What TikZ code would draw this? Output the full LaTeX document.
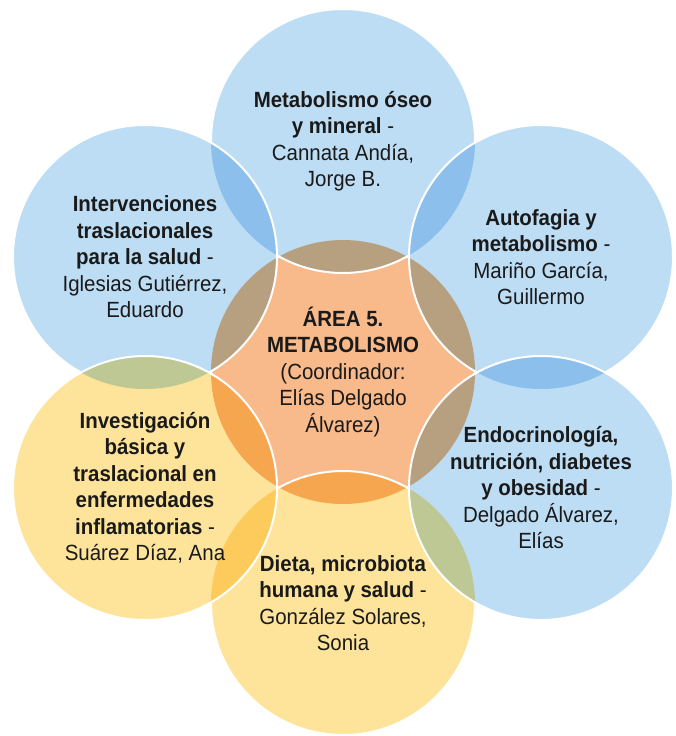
\documentclass[tikz,border=0pt]{standalone}
\usepackage{fontspec}
\setmainfont{Liberation Sans}[FakeStretch=0.93]
\definecolor{cblue}{HTML}{BDDDF5}
\definecolor{corange}{HTML}{F8B98B}
\definecolor{cyellow}{HTML}{FEE49B}
\definecolor{mixbb}{HTML}{8CBFEB}
\definecolor{mixob}{HTML}{B7A080}
\definecolor{mixoy}{HTML}{F6A64E}
\definecolor{mixyb}{HTML}{BDC894}
\definecolor{mixyy}{HTML}{FDCB5C}
\definecolor{txtcol}{HTML}{1A1A1A}
\begin{document}
\begin{tikzpicture}[x=1pt,y=-1pt,
  txt/.style={align=center, font=\fontsize{22}{26.5}\selectfont, text=txtcol, inner sep=0pt},
  rim/.style={draw=white, line width=2pt}]
\useasboundingbox (0,0) rectangle (676,736);
\def\R{132pt}
\coordinate (C) at (343,372);
\coordinate (T) at (343,141);
\coordinate (UL) at (145,257);
\coordinate (UR) at (541,257);
\coordinate (B) at (343,603);
\coordinate (BL) at (145,488);
\coordinate (BR) at (541,488);
% centre
\fill[corange] (C) circle (\R);
\draw[rim] (C) circle (\R);
% top
\fill[cblue] (T) circle (\R);
\begin{scope}\clip (T) circle (\R); \fill[mixob] (C) circle (\R); \end{scope}
\draw[rim] (T) circle (\R);
% upper left
\fill[cblue] (UL) circle (\R);
\begin{scope}\clip (UL) circle (\R); \fill[mixbb] (T) circle (\R); \fill[mixob] (C) circle (\R); \end{scope}
\draw[rim] (UL) circle (\R);
% upper right
\fill[cblue] (UR) circle (\R);
\begin{scope}\clip (UR) circle (\R); \fill[mixbb] (T) circle (\R); \fill[mixob] (C) circle (\R); \end{scope}
\draw[rim] (UR) circle (\R);
% bottom
\fill[cyellow] (B) circle (\R);
\begin{scope}\clip (B) circle (\R); \fill[mixoy] (C) circle (\R); \end{scope}
\draw[rim] (B) circle (\R);
% bottom left
\fill[cyellow] (BL) circle (\R);
\begin{scope}\clip (BL) circle (\R); \fill[mixyb] (UL) circle (\R); \fill[mixoy] (C) circle (\R); \fill[mixyy] (B) circle (\R); \end{scope}
\draw[rim] (BL) circle (\R);
% bottom right
\fill[cblue] (BR) circle (\R);
\begin{scope}\clip (BR) circle (\R); \fill[mixbb] (UR) circle (\R); \fill[mixob] (C) circle (\R); \fill[mixyb] (B) circle (\R); \end{scope}
\draw[rim] (BR) circle (\R);
% texts
\node[txt] (tC) at (C) {\textbf{ÁREA 5.}\\\textbf{METABOLISMO}\\(Coordinador:\\Elías Delgado\\Álvarez)};
\node[txt] (tT) at (T) {\textbf{Metabolismo óseo}\\\textbf{y mineral} -\\Cannata Andía,\\Jorge B.};
\node[txt] (tUL) at (UL) {\textbf{Intervenciones}\\\textbf{traslacionales}\\\textbf{para la salud} -\\Iglesias Gutiérrez,\\Eduardo};
\node[txt] (tUR) at (UR) {\textbf{Autofagia y}\\\textbf{metabolismo} -\\Mariño García,\\Guillermo};
\node[txt] (tB) at (B) {\textbf{Dieta, microbiota}\\\textbf{humana y salud} -\\González Solares,\\Sonia};
\node[txt] (tBL) at (BL) {\textbf{Investigación}\\\textbf{básica y}\\\textbf{traslacional en}\\\textbf{enfermedades}\\\textbf{inflamatorias} -\\Suárez Díaz, Ana};
\node[txt] (tBR) at (BR) {\textbf{Endocrinología,}\\\textbf{nutrición, diabetes}\\\textbf{y obesidad} -\\Delgado Álvarez,\\Elías};
\end{tikzpicture}
\end{document}
